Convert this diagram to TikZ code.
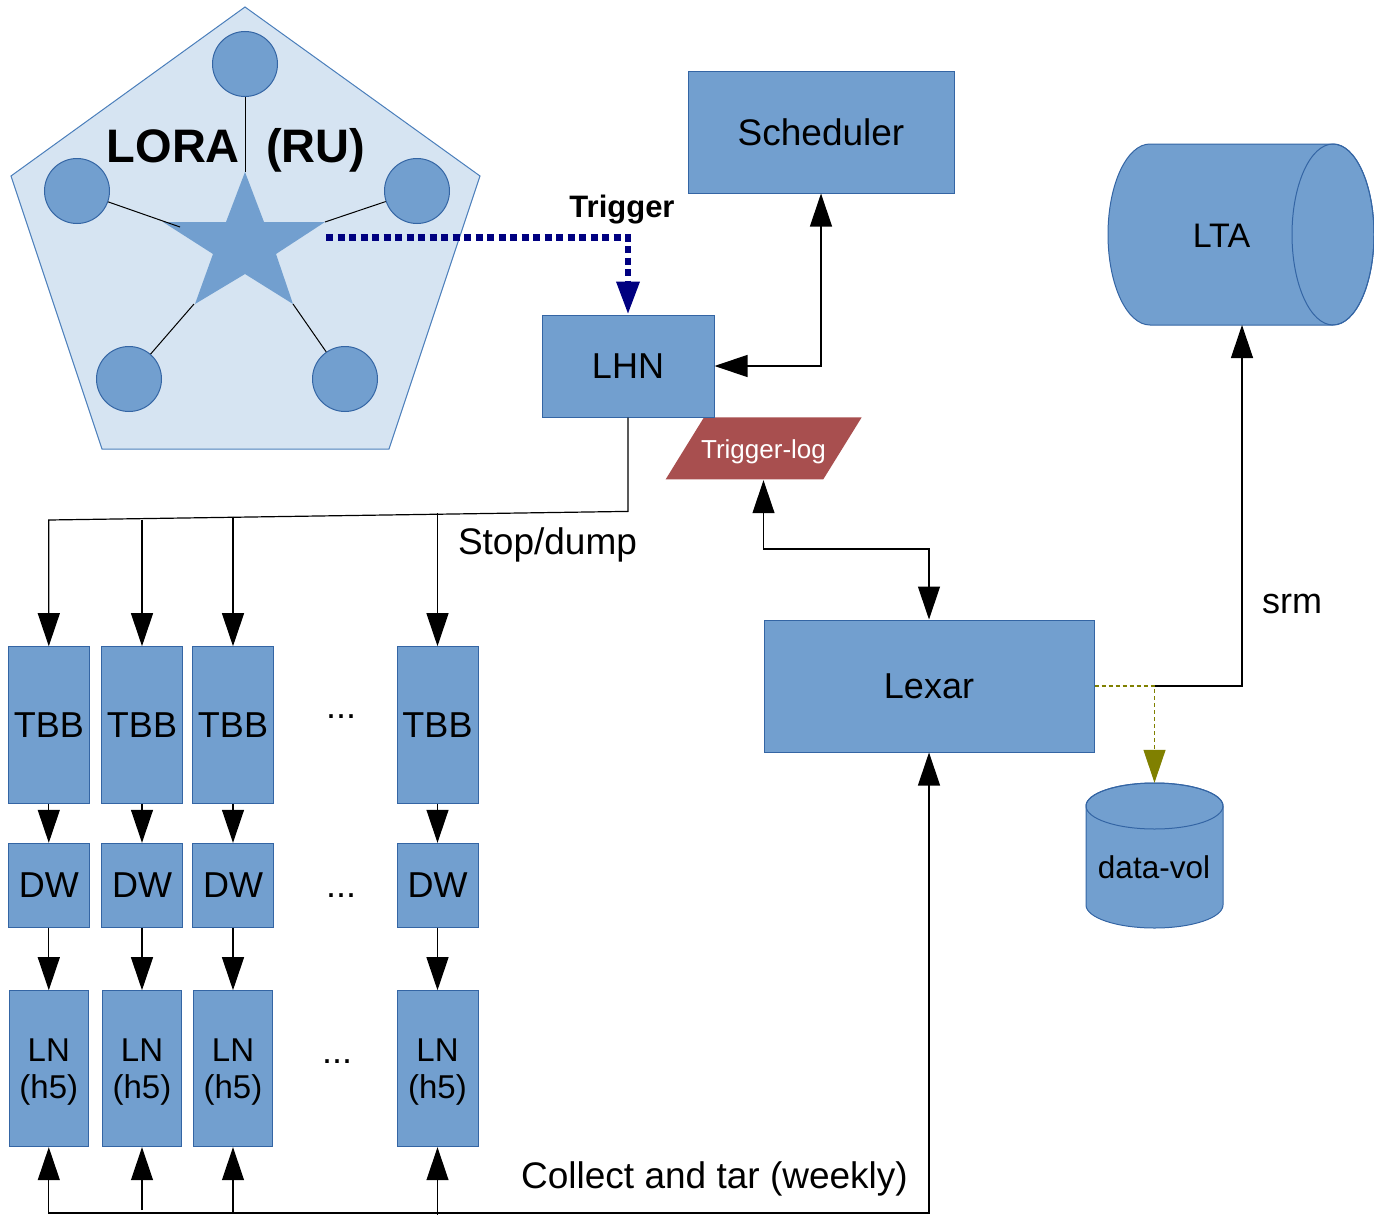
\documentclass[tikz,border=0pt]{standalone}
\usepackage{fontspec}
\setmainfont{Liberation Sans}
\usetikzlibrary{arrows.meta}
\definecolor{blu}{HTML}{729FCF}
\definecolor{bord}{HTML}{3465A4}
\definecolor{pent}{HTML}{D6E4F2}
\definecolor{pentb}{HTML}{4A7EBB}
\definecolor{tlogc}{HTML}{A84F4F}
\definecolor{navyc}{HTML}{000080}
\definecolor{olivec}{HTML}{808000}
\newcommand{\myfs}[2]{\fontsize{#1}{#2}\selectfont}
\begin{document}
\begin{tikzpicture}[x=1pt,y=-1pt,
  >={Triangle[length=33pt,width=22pt]},
  box/.style={draw=bord, fill=blu, line width=1pt, inner sep=0pt, text depth=0pt, font=\myfs{36}{40}},
  conn/.style={line width=1.2pt, black},
  lbl/.style={anchor=base, inner sep=0pt, font=\myfs{37}{40}},
  sat/.style={circle, draw=bord, fill=blu, line width=1pt, minimum size=65pt, inner sep=0pt},
  thinl/.style={line width=1pt, black},
  cyl/.style={fill=blu, draw=bord, line width=1pt}]

\useasboundingbox (0,0) rectangle (1374,1215);

% ---------- LORA ----------
\filldraw[fill=pent, draw=pentb, line width=1pt] (245,7) -- (480,176) -- (389,449) -- (102,449) -- (11,176) -- cycle;
\fill[blu] (245,172) -- (264,222) -- (325,222) -- (276,254) -- (293,304) -- (245,274) -- (195,304) -- (213,254) -- (163,222) -- (226,222) -- cycle;
\node[sat] (s1) at (245,64) {};
\node[sat] (s2) at (77,191) {};
\node[sat] (s3) at (417,191) {};
\node[sat] (s4) at (129,379) {};
\node[sat] (s5) at (345,379) {};
\coordinate (tipT) at (245,172);
\coordinate (tipL) at (180,227);
\coordinate (tipR) at (325,222);
\coordinate (tipBL) at (194,304);
\coordinate (tipBR) at (293,304);
\draw[thinl] (s1) -- (tipT);
\draw[thinl] (s2) -- (tipL);
\draw[thinl] (s3) -- (tipR);
\draw[thinl] (s4) -- (tipBL);
\draw[thinl] (s5) -- (tipBR);
\node[lbl, font=\myfs{47}{50}\bfseries] (lora) at (236,162) {LORA\ \ (RU)};
\coordinate (trigsrc) at (326,237.5);

% Trigger-log (drawn below LHN)
\fill[tlogc] (704,417.3) -- (861.7,417.3) -- (823.3,479.3) -- (665.7,479.3) -- cycle;
\node[inner sep=0pt, minimum height=62pt, text depth=0pt, text=white, font=\myfs{26}{30}] (tlog) at (763.5,449) {Trigger-log};

% ---------- boxes ----------
\node[box, minimum width=266pt, minimum height=121pt, font=\myfs{37}{40}] (sch) at (821,132.5) {Scheduler};
\node[box, minimum width=172pt, minimum height=102pt] (lhn) at (628,366) {LHN};
\node[box, minimum width=330pt, minimum height=132pt] (lexar) at (929,686) {Lexar};

% LTA cylinder
\filldraw[cyl] (1150,144) -- (1333,144) arc[start angle=90, end angle=-90, x radius=41pt, y radius=90.5pt]
  -- (1150,325) arc[start angle=-90, end angle=-270, x radius=42pt, y radius=90.5pt] -- cycle;
\draw[bord, line width=1pt] (1333,234.5) ellipse[x radius=41pt, y radius=90.5pt];
\node[inner sep=0pt, text depth=0pt, font=\myfs{34}{38}] (lta) at (1221.5,235.5) {LTA};
\coordinate (ltain) at (1242,325);

% data-vol cylinder
\filldraw[cyl] (1086,806) -- (1086,905) arc[start angle=180, end angle=360, x radius=68.5pt, y radius=23pt]
  -- (1223,806) arc[start angle=0, end angle=180, x radius=68.5pt, y radius=23pt] -- cycle;
\draw[bord, line width=1pt] (1154.5,806) ellipse[x radius=68.5pt, y radius=23pt];
\node[inner sep=0pt, minimum width=137pt, minimum height=145pt] (dv) at (1154.5,855.5) {};
\node[inner sep=0pt, text depth=0pt, font=\myfs{31.5}{35}] (dvt) at (1154,867) {data-vol};

% ---------- TBB / DW / LN columns ----------
\foreach \i/\x/\w in {1/48.8/79, 2/142/79, 3/233/79, 4/437.5/81}{
  \node[box, minimum width=81pt, minimum height=156.6pt] (tbb\i) at (\x,725) {TBB};
  \node[box, minimum width=81pt, minimum height=84pt] (dw\i) at (\x,885.3) {DW};
  \node[box, minimum width=\w pt, minimum height=156pt, align=center, font=\myfs{33}{37}] (ln\i) at (\x,1068.7) {LN\\(h5)};
}
\foreach \i in {1,...,4}{
  \draw[conn,->] (tbb\i) -- (dw\i);
  \draw[conn,->] (dw\i) -- (ln\i);
}
\node[lbl, font=\myfs{36}{40}] (dots1) at (341,718) {...};
\node[lbl, font=\myfs{36}{40}] (dots2) at (341,897) {...};
\node[lbl, font=\myfs{36}{40}] (dots3) at (337,1063) {...};

% ---------- connectors ----------
\draw[navyc, line width=6.5pt, dash pattern=on 7pt off 4.5pt, ->] (trigsrc) -| (lhn.north);
\node[lbl, font=\myfs{31}{35}\bfseries] (trig) at (622,217) {Trigger};

\draw[conn,<->] (lhn.east) -| (sch.south);

\draw[conn,<->] (tlog.south) |- (lexar.north |- 0,549) -- (lexar.north);

\draw[conn,->] (dv.north |- lexar.east) -| (ltain);
\draw[olivec, line width=1.2pt, dash pattern=on 4pt off 3pt, ->] (lexar.east) -| (dv.north);
\node[lbl, font=\myfs{36}{40}] (srm) at (1292,613) {srm};

\draw[conn,->] (lhn.south) -- (628,511.4) -- (tbb1.north |- 0,520) -- (tbb1.north);
\draw[conn,->] (tbb2.north |- 0,519.5) -- (tbb2.north);
\draw[conn,->] (tbb3.north |- 0,516.5) -- (tbb3.north);
\draw[conn,->] (tbb4.north |- 0,513) -- (tbb4.north);
\node[lbl] (stop) at (547.5,554) {Stop/dump};

\draw[conn,<->] (ln1.south) -- (ln1.south |- 0,1213) -| (lexar.south);
\draw[conn,->] (ln2.south |- 0,1210) -- (ln2.south);
\draw[conn,->] (ln3.south |- 0,1213) -- (ln3.south);
\draw[conn,->] (ln4.south |- 0,1215) -- (ln4.south);
\node[lbl] (collect) at (714.5,1188) {Collect and tar (weekly)};
\end{tikzpicture}
\end{document}
